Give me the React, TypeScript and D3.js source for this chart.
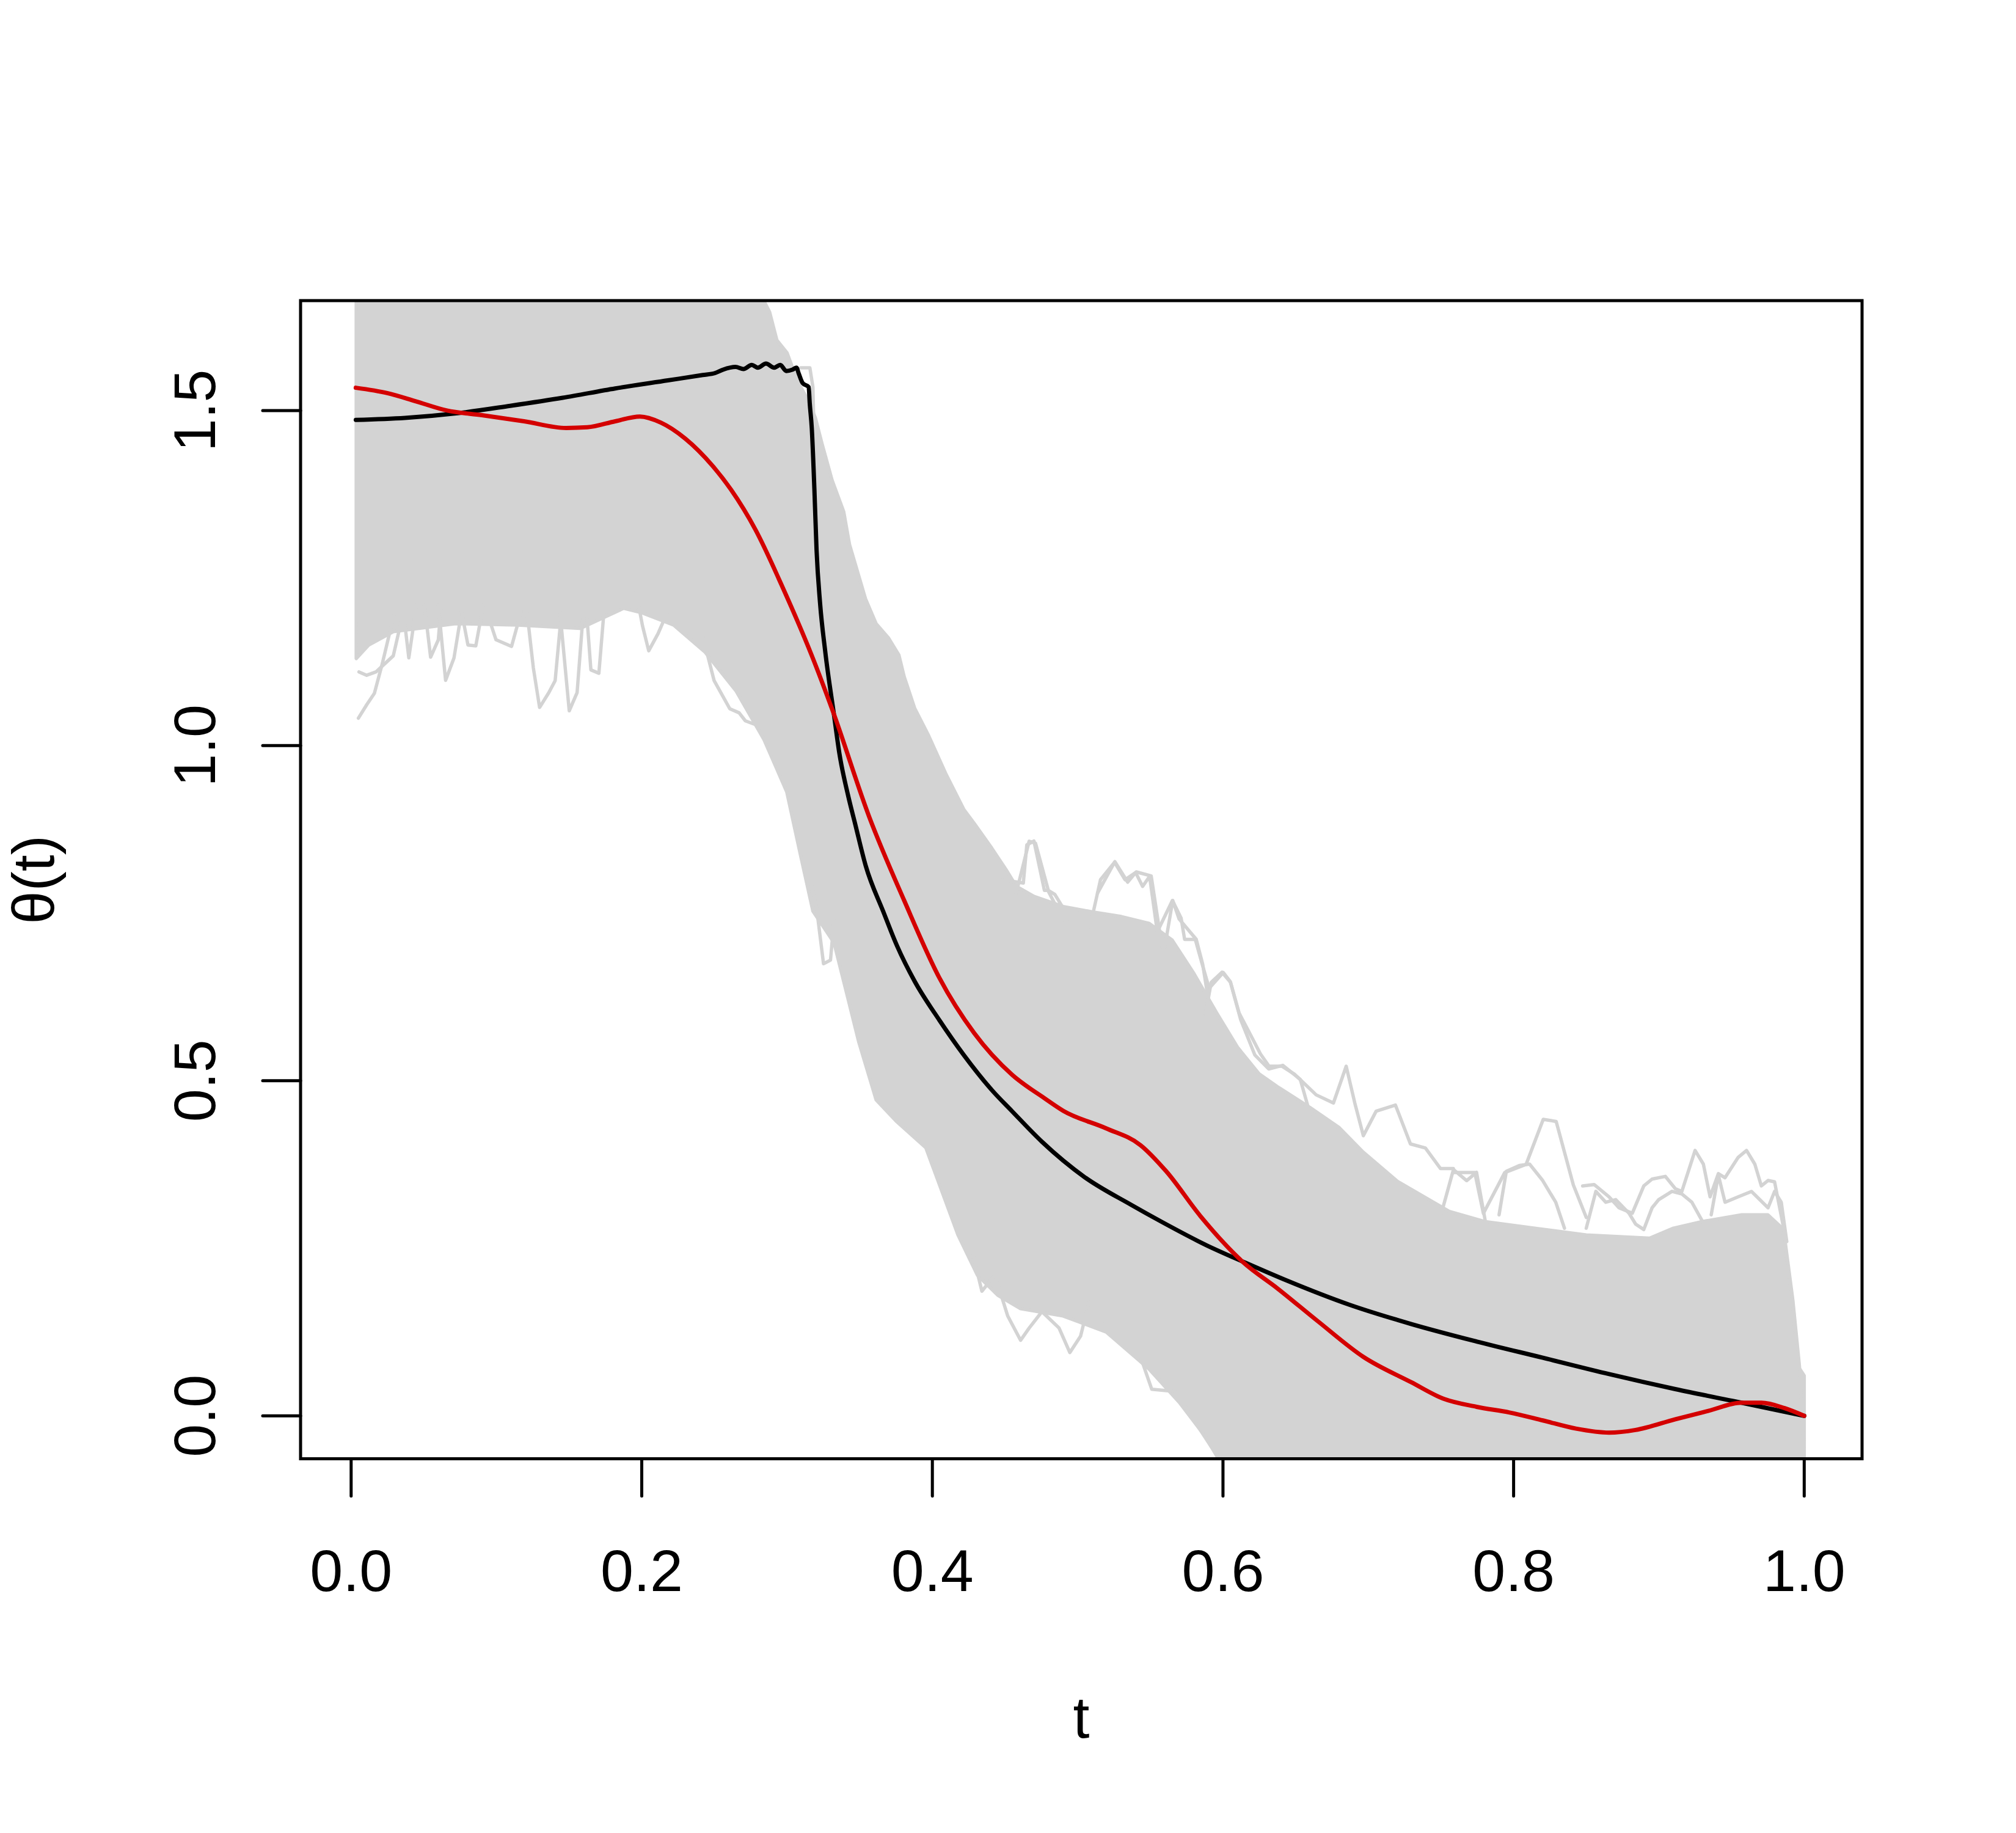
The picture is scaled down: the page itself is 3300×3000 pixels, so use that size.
import React from "react";
import * as d3 from "d3";

// ---- data ----
const xTicks = [0, 0.2, 0.4, 0.6, 0.8, 1.0];
const yTicks = [0, 0.5, 1.0, 1.5];
const xLimits = [0.005, 1.0];
const yLimits = [0, 1.6];

const redT = [0.0032, 0.0249, 0.0442, 0.066, 0.09, 0.119, 0.148, 0.1625, 0.1818, 0.1987, 0.2131, 0.23, 0.2493, 0.2614, 0.2783, 0.2976, 0.3169, 0.3314, 0.3565, 0.3806, 0.4047, 0.4288, 0.4548, 0.4771, 0.4902, 0.5196, 0.5432, 0.5609, 0.5845, 0.614, 0.6376, 0.6654, 0.6966, 0.7297, 0.7512, 0.7745, 0.7973, 0.8201, 0.8429, 0.8657, 0.8839, 0.9113, 0.934, 0.9568, 0.9705, 0.9865, 1.0];
const redV = [1.534, 1.526, 1.514, 1.5, 1.493, 1.484, 1.474, 1.475, 1.484, 1.491, 1.482, 1.458, 1.416, 1.382, 1.322, 1.233, 1.135, 1.052, 0.894, 0.769, 0.654, 0.571, 0.509, 0.474, 0.455, 0.429, 0.404, 0.365, 0.298, 0.229, 0.19, 0.141, 0.088, 0.05, 0.026, 0.0135, 0.005, -0.0068, -0.019, -0.025, -0.021, -0.005, 0.0074, 0.0196, 0.0196, 0.0115, 0.0];

const blackT = [0.0032, 0.037, 0.0732, 0.1094, 0.1456, 0.1818, 0.218, 0.242, 0.2505, 0.256, 0.2645, 0.27, 0.2757, 0.2799, 0.2855, 0.2911, 0.2953, 0.2995, 0.3037, 0.3065, 0.3079, 0.3107, 0.3149, 0.3156, 0.317, 0.3188, 0.3203, 0.3227, 0.3263, 0.3323, 0.336, 0.342, 0.3468, 0.3541, 0.3661, 0.3758, 0.3878, 0.4047, 0.4216, 0.4409, 0.4548, 0.4754, 0.5049, 0.5367, 0.5582, 0.5882, 0.616, 0.6439, 0.6868, 0.7297, 0.7745, 0.8201, 0.8657, 0.9113, 0.9568, 1.0];
const blackV = [1.486, 1.489, 1.496, 1.507, 1.519, 1.533, 1.545, 1.553, 1.556, 1.561, 1.565, 1.562, 1.568, 1.564, 1.57, 1.564, 1.568, 1.559, 1.561, 1.564, 1.556, 1.541, 1.535, 1.511, 1.474, 1.383, 1.292, 1.213, 1.14, 1.046, 0.9885, 0.9257, 0.8838, 0.821, 0.753, 0.7007, 0.6484, 0.5908, 0.5385, 0.4862, 0.4546, 0.409, 0.356, 0.315, 0.289, 0.255, 0.228, 0.202, 0.166, 0.137, 0.111, 0.0867, 0.0623, 0.0399, 0.0196, 0.0];

// dense band of simulated paths: upper and lower envelope
const bandUpper = [[0.0035, 1.8], [0.28, 1.8], [0.284, 1.664], [0.288, 1.647], [0.293, 1.605], [0.3, 1.586], [0.307, 1.545], [0.3157, 1.51], [0.3195, 1.489], [0.324, 1.451], [0.331, 1.396], [0.339, 1.349], [0.343, 1.3], [0.354, 1.219], [0.3613, 1.182], [0.3697, 1.161], [0.377, 1.135], [0.3806, 1.103], [0.3878, 1.056], [0.3975, 1.0146], [0.4095, 0.957], [0.4216, 0.905], [0.4288, 0.884], [0.4409, 0.847], [0.4505, 0.8158], [0.4578, 0.79], [0.47, 0.775], [0.49, 0.76], [0.51, 0.752], [0.53, 0.745], [0.549, 0.735], [0.565, 0.71], [0.58, 0.66], [0.596, 0.6], [0.61, 0.55], [0.625, 0.51], [0.6376, 0.491], [0.66, 0.46], [0.68, 0.43], [0.6965, 0.3935], [0.72, 0.35], [0.7557, 0.305], [0.78, 0.29], [0.8146, 0.28], [0.85, 0.27], [0.8936, 0.265], [0.91, 0.28], [0.93, 0.29], [0.957, 0.3], [0.975, 0.3], [0.985, 0.28], [0.992, 0.172], [0.9956, 0.0745], [1.0, 0.06]];
const bandLower = [[0.0035, 1.13], [0.012, 1.15], [0.029, 1.17], [0.0718, 1.182], [0.1147, 1.18], [0.1577, 1.175], [0.1876, 1.205], [0.2004, 1.198], [0.2219, 1.18], [0.2434, 1.14], [0.2648, 1.082], [0.2841, 1.009], [0.2998, 0.931], [0.3082, 0.847], [0.3178, 0.753], [0.3323, 0.706], [0.342, 0.622], [0.3492, 0.559], [0.3613, 0.4715], [0.375, 0.44], [0.3955, 0.4], [0.4176, 0.27], [0.431, 0.21], [0.445, 0.18], [0.4607, 0.16], [0.49, 0.149], [0.5197, 0.125], [0.549, 0.07], [0.57, 0.02], [0.5875, -0.03], [0.596, -0.061], [0.605, -0.1], [1.0, -0.1]];

// individual stray paths outside the dense band
const grayOutliers = [
  [[0.005, 1.041], [0.0107, 1.061], [0.016, 1.078], [0.0214, 1.122], [0.03, 1.2]],
  [[0.0054, 1.11], [0.0107, 1.105], [0.0171, 1.11], [0.029, 1.134], [0.036, 1.2]],
  [[0.0354, 1.21], [0.0397, 1.131], [0.045, 1.21]],
  [[0.0504, 1.21], [0.0547, 1.132], [0.06, 1.158], [0.062, 1.21]],
  [[0.06, 1.21], [0.065, 1.0975], [0.0708, 1.131], [0.076, 1.2]],
  [[0.076, 1.2], [0.0804, 1.15], [0.0858, 1.149], [0.091, 1.21]],
  [[0.0933, 1.2], [0.0997, 1.158], [0.1104, 1.148], [0.117, 1.2]],
  [[0.121, 1.2], [0.1254, 1.116], [0.1297, 1.057], [0.136, 1.079], [0.1404, 1.097], [0.1448, 1.2]],
  [[0.1437, 1.2], [0.1501, 1.052], [0.1555, 1.079], [0.1598, 1.2]],
  [[0.162, 1.2], [0.165, 1.113], [0.1705, 1.108], [0.174, 1.2]],
  [[0.196, 1.23], [0.2005, 1.179], [0.2048, 1.1415], [0.2112, 1.167], [0.2198, 1.21]],
  [[0.24, 1.18], [0.2498, 1.097], [0.2606, 1.055], [0.267, 1.049], [0.2713, 1.037], [0.28, 1.03]],
  [[0.316, 0.8], [0.3203, 0.758], [0.3251, 0.6746], [0.3299, 0.68], [0.3323, 0.74]],
  [[0.428, 0.24], [0.4341, 0.186], [0.443, 0.2104], [0.4518, 0.1494], [0.4607, 0.1128], [0.4666, 0.131], [0.4754, 0.1555], [0.4872, 0.131], [0.4946, 0.0945], [0.502, 0.119], [0.5079, 0.17]],
  [[0.5079, 0.16], [0.5197, 0.131], [0.5315, 0.107], [0.5432, 0.0884], [0.551, 0.0396], [0.5668, 0.0365], [0.5757, 0.009], [0.5845, -0.0215], [0.5919, -0.046], [0.6007, -0.07]],
  [[0.3094, 1.5638], [0.3157, 1.5638], [0.3178, 1.535], [0.3184, 1.48]],
  [[0.448, 0.8], [0.4626, 0.795], [0.465, 0.852], [0.4699, 0.8577], [0.4771, 0.784], [0.4795, 0.784], [0.49, 0.74]],
  [[0.4577, 0.78], [0.4666, 0.8574], [0.471, 0.8543], [0.4798, 0.784], [0.4843, 0.778], [0.495, 0.74]],
  [[0.5085, 0.73], [0.5157, 0.8], [0.5254, 0.826], [0.5326, 0.8], [0.5399, 0.8106], [0.5447, 0.79], [0.5495, 0.805], [0.5543, 0.73]],
  [[0.5137, 0.78], [0.5256, 0.8269], [0.5344, 0.7963], [0.5403, 0.8116], [0.5506, 0.8055], [0.558, 0.7]],
  [[0.5543, 0.72], [0.5652, 0.769], [0.5712, 0.7425], [0.5736, 0.711], [0.5809, 0.711], [0.5857, 0.674], [0.5905, 0.638], [0.6002, 0.6615], [0.605, 0.648], [0.6122, 0.591], [0.6219, 0.5385], [0.6315, 0.5176], [0.6412, 0.523], [0.6532, 0.502], [0.66, 0.45]],
  [[0.56, 0.7], [0.5654, 0.769], [0.5698, 0.7414], [0.5816, 0.711], [0.586, 0.6743], [0.59, 0.62]],
  [[0.588, 0.6], [0.5919, 0.6468], [0.5993, 0.662], [0.6052, 0.6468], [0.6111, 0.601], [0.617, 0.5766], [0.6258, 0.54], [0.6317, 0.5217], [0.6405, 0.5217], [0.6494, 0.5095], [0.6641, 0.479], [0.676, 0.4668], [0.6848, 0.5217], [0.6907, 0.4668], [0.6966, 0.418], [0.7054, 0.4546], [0.7187, 0.4637], [0.729, 0.4057], [0.7393, 0.3996], [0.7497, 0.369], [0.7585, 0.369]],
  [[0.7585, 0.363], [0.7733, 0.363], [0.7792, 0.302], [0.7939, 0.363], [0.8086, 0.3752], [0.8204, 0.4424], [0.8293, 0.4393], [0.8411, 0.3447], [0.85, 0.296]],
  [[0.75, 0.3], [0.7586, 0.3675], [0.7677, 0.351], [0.7745, 0.3634], [0.7814, 0.28]],
  [[0.79, 0.3], [0.795, 0.365], [0.804, 0.3736], [0.811, 0.3757], [0.82, 0.3512], [0.829, 0.3187], [0.835, 0.28]],
  [[0.85, 0.28], [0.8566, 0.335], [0.8634, 0.3187], [0.8703, 0.3227], [0.8794, 0.3024], [0.884, 0.2861], [0.8896, 0.278], [0.8953, 0.3105], [0.8999, 0.3227], [0.909, 0.335], [0.9158, 0.331], [0.9227, 0.3187], [0.93, 0.29]],
  [[0.936, 0.3], [0.9409, 0.3594], [0.9455, 0.3187], [0.9546, 0.3268], [0.9637, 0.3349], [0.9751, 0.3105], [0.9796, 0.3349], [0.9842, 0.3187], [0.988, 0.26]],
  [[0.8475, 0.343], [0.8554, 0.3451], [0.8657, 0.3268], [0.8725, 0.3105], [0.8817, 0.3024], [0.8896, 0.3431], [0.8953, 0.3533], [0.9044, 0.3573], [0.9113, 0.339], [0.9158, 0.3349], [0.9249, 0.396], [0.9306, 0.3756], [0.9352, 0.3268], [0.9409, 0.3614], [0.9455, 0.3553], [0.9546, 0.3858], [0.9603, 0.396], [0.966, 0.3756], [0.9705, 0.3431], [0.9751, 0.3512], [0.9796, 0.3492], [0.9853, 0.2861], [0.9922, 0.1722], [0.9967, 0.0745], [1.0, -0.064]],
];

const xTitle = "t";
const yTitle = "θ(t)";

// ---- layout ----
const W = 3300;
const H = 3000;
const plot = { left: 492, right: 3048, top: 492, bottom: 2387.5 };
const FONT = "'Liberation Sans', Arial, Helvetica, sans-serif";
const FS = 97;
const GRAY = "#D3D3D3";
const RED = "#D40000";

function expand([a, b]: number[]) {
  const d = (b - a) * 0.04;
  return [a - d, b + d];
}

export default function App() {
  const x = d3.scaleLinear().domain(expand(xLimits)).range([plot.left, plot.right]);
  const y = d3.scaleLinear().domain(expand(yLimits)).range([plot.bottom, plot.top]);

  const poly = d3.line<number[]>().x((d) => x(d[0])).y((d) => y(d[1]));
  const bandPts = [...bandUpper, ...bandLower.slice().reverse()];
  const bandPath = poly(bandPts) + "Z";

  const redPath = d3
    .line<number>()
    .x((_, i) => x(redT[i]))
    .y((d) => y(d))
    .curve(d3.curveMonotoneX)(redV);
  const blackPath = d3
    .line<number>()
    .x((_, i) => x(blackT[i]))
    .y((d) => y(d))
    .curve(d3.curveMonotoneX)(blackV);

  const cx = (plot.left + plot.right) / 2;
  const cy = (plot.top + plot.bottom) / 2;

  return (
    <svg
      width={W}
      height={H}
      viewBox={`0 0 ${W} ${H}`}
      style={{ position: "absolute", left: 0, top: 0, display: "block", background: "#fff" }}
    >
      <rect x={0} y={0} width={W} height={H} fill="#fff" />
      <defs>
        <clipPath id="plotClip">
          <rect x={plot.left} y={plot.top} width={plot.right - plot.left} height={plot.bottom - plot.top} />
        </clipPath>
      </defs>
      <g clipPath="url(#plotClip)">
        <path d={bandPath} fill={GRAY} stroke={GRAY} strokeWidth={5.5} strokeLinejoin="round" />
        {grayOutliers.map((pts, i) => (
          <path key={i} d={poly(pts) || ""} fill="none" stroke={GRAY} strokeWidth={5.5} strokeLinejoin="round" strokeLinecap="round" />
        ))}
        <path d={blackPath || ""} fill="none" stroke="#000" strokeWidth={7} strokeLinejoin="round" strokeLinecap="round" />
        <path d={redPath || ""} fill="none" stroke={RED} strokeWidth={7} strokeLinejoin="round" strokeLinecap="round" />
      </g>
      <rect
        x={plot.left}
        y={plot.top}
        width={plot.right - plot.left}
        height={plot.bottom - plot.top}
        fill="none"
        stroke="#000"
        strokeWidth={5}
      />
      {/* x axis */}
      {xTicks.map((t) => (
        <g key={"xt" + t}>
          <line x1={x(t)} x2={x(t)} y1={plot.bottom} y2={plot.bottom + 61} stroke="#000" strokeWidth={5} strokeLinecap="round" />
          <text x={x(t)} y={2604} textAnchor="middle" fontFamily={FONT} fontSize={FS} fill="#000">
            {t.toFixed(1)}
          </text>
        </g>
      ))}
      {/* y axis */}
      {yTicks.map((t) => (
        <g key={"yt" + t}>
          <line x1={plot.left} x2={plot.left - 62} y1={y(t)} y2={y(t)} stroke="#000" strokeWidth={5} strokeLinecap="round" />
          <text
            transform={`translate(352,${y(t)}) rotate(-90)`}
            textAnchor="middle"
            fontFamily={FONT}
            fontSize={FS}
            fill="#000"
          >
            {t.toFixed(1)}
          </text>
        </g>
      ))}
      <text x={cx} y={2844} textAnchor="middle" fontFamily={FONT} fontSize={FS} fill="#000">
        {xTitle}
      </text>
      <text transform={`translate(88,${cy}) rotate(-90)`} textAnchor="middle" fontFamily={FONT} fontSize={FS} fill="#000">
        {yTitle}
      </text>
    </svg>
  );
}
